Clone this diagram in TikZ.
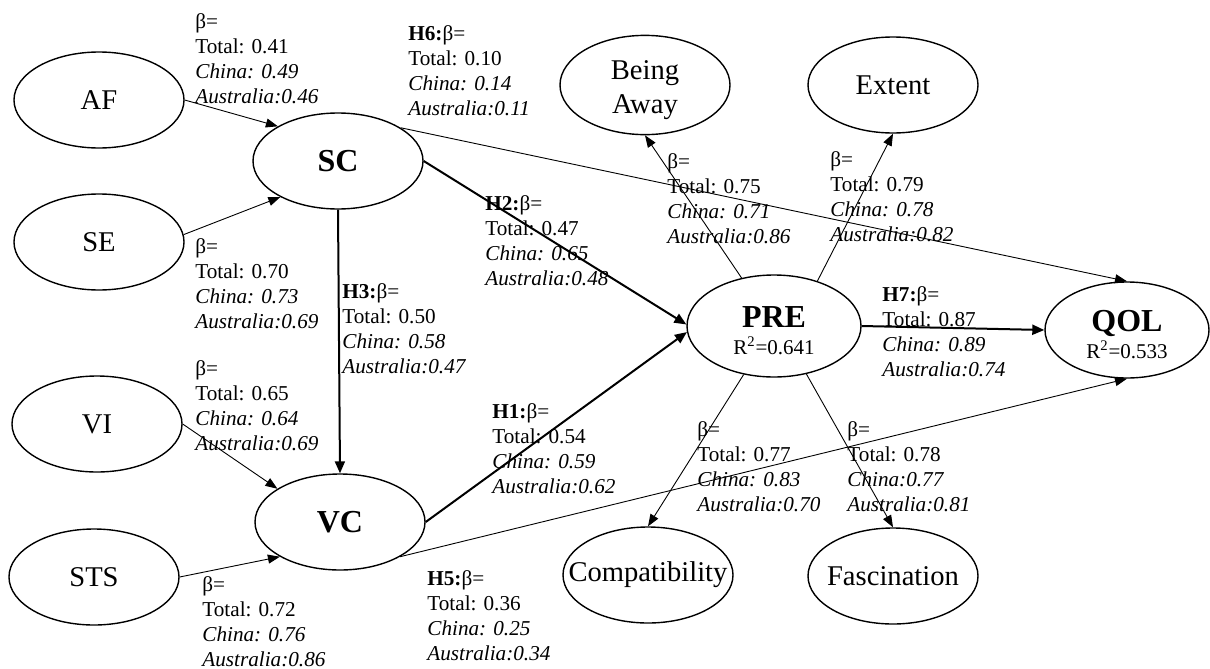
\documentclass[tikz,border=0pt]{standalone}
\usepackage{fontspec}
\setmainfont{Liberation Serif}
\usetikzlibrary{shapes.geometric,arrows.meta}

\begin{document}
\begin{tikzpicture}
[
    x=0.5pt, y=-0.5pt,
    latent/.style={draw, ellipse, line width=0.7pt, minimum width=85pt, minimum height=48pt, inner sep=0pt, align=center, font=\fontsize{14.3}{17}\selectfont},
    construct/.style={latent, font=\fontsize{16}{17}\selectfont\bfseries},
    endo/.style={latent, font=\fontsize{10.5}{13.2}\selectfont},
    thinarrow/.style={line width=0.45pt, -{Triangle[length=6pt,width=4.5pt]}},
    hyparrow/.style={line width=1pt, -{Triangle[length=6pt,width=5pt]}},
    coef/.style={anchor=north west, align=left, inner sep=0pt, font=\fontsize{10.6}{12.6}\selectfont}
]
    \useasboundingbox (0,0) rectangle (1210,669);

    \node [latent] (AF) at (99,100) {AF};
    \node [latent] (SE) at (99,242) {SE};
    \node [latent] (VI) at (97,424) {VI};
    \node [latent] (STS) at (94,577) {STS};
    \node [construct] (SC) at (338,161) {SC};
    \node [construct] (VC) at (340,522) {VC};
    \node [latent] (BA) at (645,85) {\rule{0pt}{15pt}Being\\Away};
    \node [latent] (EX) at (893,85) {Extent};
    \node [latent] (CO) at (648,575) {\makebox[0pt]{Compatibility}};
    \node [latent] (FA) at (893,576) {\makebox[0pt]{Fascination}};
    \node [endo, minimum width=87pt, minimum height=51pt] (PRE) at (774,326)
        {\rule{0pt}{15pt}{\fontsize{16}{13.2}\selectfont\bfseries PRE}\\R\textsuperscript{2}=0.641};
    \node [endo, minimum width=82pt] (QOL) at (1127,330)
        {\rule{0pt}{15pt}{\fontsize{16}{13.2}\selectfont\bfseries QOL}\\R\textsuperscript{2}=0.533};

    \draw [thinarrow] (AF.east) -- (SC.150);
    \draw [thinarrow] (SE.5) -- (SC.212);
    \draw [thinarrow] (VI.east) -- (VC.152);
    \draw [thinarrow] (STS.east) -- (VC.210);
    \draw [hyparrow] (SC.south) -- (VC.north);
    \draw [hyparrow] (SC.east) -- (PRE.179);
    \draw [hyparrow] (VC.east) -- (PRE.184);
    \draw [thinarrow] (SC.28) -- (QOL.north);
    \draw [thinarrow] (VC.-30) -- (QOL.south);
    \draw [hyparrow] (PRE.east) -- (QOL.west);
    \draw [thinarrow] (PRE.124) -- (BA.south);
    \draw [thinarrow] (PRE.46) -- (EX.south);
    \draw [thinarrow] (PRE.238) -- (CO.north);
    \draw [thinarrow] (PRE.304) -- (FA.north);

    \node [coef] (cAF) at (195,13) {β=\\Total: 0.41\\\textit{China: 0.49}\\\textit{Australia:0.46}};
    \node [coef] (cSE) at (195,238) {β=\\Total: 0.70\\\textit{China: 0.73}\\\textit{Australia:0.69}};
    \node [coef] (cVI) at (195,360) {β=\\Total: 0.65\\\textit{China: 0.64}\\\textit{Australia:0.69}};
    \node [coef] (cSTS) at (202,576) {β=\\Total: 0.72\\\textit{China: 0.76}\\\textit{Australia:0.86}};
    \node [coef] (cH6) at (408,25) {\textbf{H6:}β=\\Total: 0.10\\\textit{China: 0.14}\\\textit{Australia:0.11}};
    \node [coef] (cH3) at (342,283) {\textbf{H3:}β=\\Total: 0.50\\\textit{China: 0.58}\\\textit{Australia:0.47}};
    \node [coef] (cH2) at (485,195) {\textbf{H2:}β=\\Total: 0.47\\\textit{China: 0.65}\\\textit{Australia:0.48}};
    \node [coef] (cH1) at (492,403) {\textbf{H1:}β=\\Total: 0.54\\\textit{China: 0.59}\\\textit{Australia:0.62}};
    \node [coef] (cH5) at (427,570) {\textbf{H5:}β=\\Total: 0.36\\\textit{China: 0.25}\\\textit{Australia:0.34}};
    \node [coef] (cH7) at (882,286) {\textbf{H7:}β=\\Total: 0.87\\\textit{China: 0.89}\\\textit{Australia:0.74}};
    \node [coef] (cBA) at (667,153) {β=\\Total: 0.75\\\textit{China: 0.71}\\\textit{Australia:0.86}};
    \node [coef] (cEX) at (830,151) {β=\\Total: 0.79\\\textit{China: 0.78}\\\textit{Australia:0.82}};
    \node [coef] (cCO) at (697,421) {β=\\Total: 0.77\\\textit{China: 0.83}\\\textit{Australia:0.70}};
    \node [coef] (cFA) at (847,421) {β=\\Total: 0.78\\\textit{China:0.77}\\\textit{Australia:0.81}};
\end{tikzpicture}
\end{document}
